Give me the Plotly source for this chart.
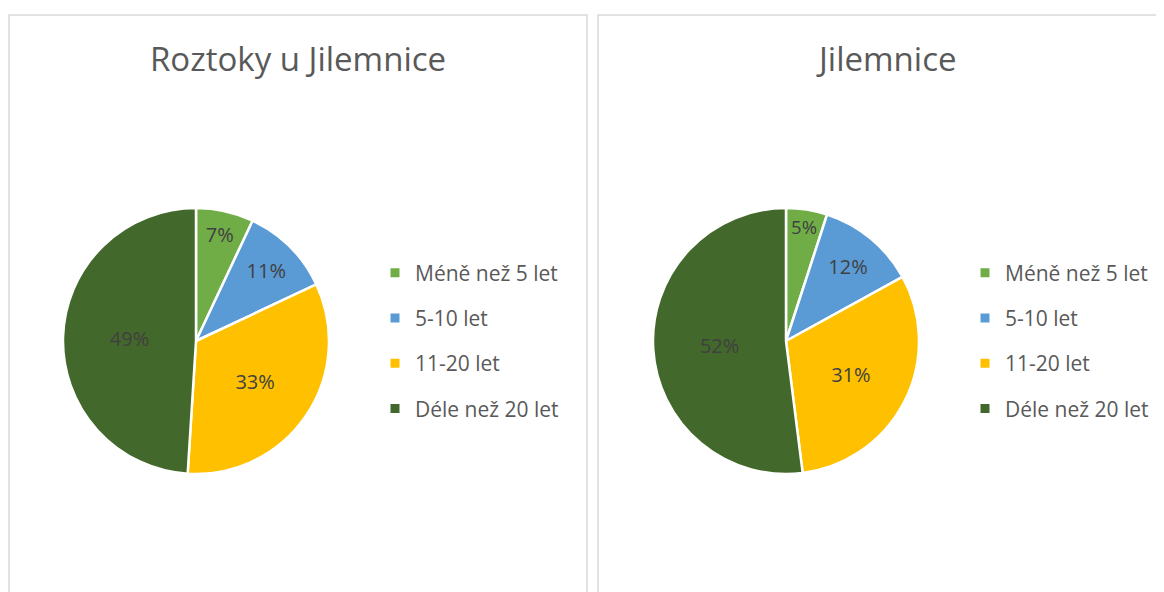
import plotly.graph_objects as go

categories = ["Méně než 5 let", "5-10 let", "11-20 let", "Déle než 20 let"]
colors = ["#70AD47", "#5B9BD5", "#FFC000", "#43682B"]
titles = ["Roztoky u Jilemnice", "Jilemnice"]
roztoky_values = [7, 11, 33, 49]
jilemnice_values = [5, 12, 31, 52]

# page body has an 8px default margin; figure is drawn from (8, 8)
OFF = 8
W, H = 1164 - OFF, 592 - OFF
FONT = "Open Sans"


def px(x):
    return (x - OFF) / W


def py(y):
    return 1 - (y - OFF) / H


fig = go.Figure()

panels = [
    dict(values=roztoky_values, title=titles[0], dom_x=(63, 329), legend="legend", cx=298),
    dict(values=jilemnice_values, title=titles[1], dom_x=(653, 919), legend="legend2", cx=886),
]

for p in panels:
    fig.add_trace(go.Pie(
        labels=categories, values=p["values"],
        marker=dict(colors=colors, line=dict(color="white", width=2.5)),
        sort=False, direction="clockwise", rotation=0,
        textinfo="percent", textposition="inside", insidetextorientation="horizontal",
        textfont=dict(family=FONT, size=20, color="#404040"),
        showlegend=False,
        domain=dict(x=[px(p["dom_x"][0]), px(p["dom_x"][1])], y=[py(474), py(208)]),
    ))
    for i, (cat, col) in enumerate(zip(categories, colors)):
        fig.add_trace(go.Scatter(
            x=[None], y=[None], mode="markers", name=cat,
            marker=dict(symbol="square", size=9, color=col),
            legend=p["legend"], legendgroup=p["legend"] + str(i), showlegend=True,
        ))
    fig.add_annotation(text=p["title"], x=px(p["cx"]), y=py(59), xref="paper", yref="paper",
                       showarrow=False, xanchor="center", yanchor="middle",
                       font=dict(family=FONT, size=33, color="#595959"))

legend_common = dict(font=dict(family=FONT, size=21, color="#595959"), tracegroupgap=15,
                     itemwidth=30, bgcolor="rgba(0,0,0,0)", yanchor="middle", xanchor="left",
                     y=py(341), itemclick=False, itemdoubleclick=False)
fig.update_layout(
    legend=dict(x=px(375), **legend_common),
    legend2=dict(x=px(965), **legend_common),
)

# panel borders
fig.add_shape(type="rect", xref="paper", yref="paper", x0=px(9), x1=px(587), y0=-0.05, y1=py(15),
              line=dict(color="#D9D9D9", width=1.5), fillcolor="rgba(0,0,0,0)")
fig.add_shape(type="rect", xref="paper", yref="paper", x0=px(598), x1=1.05, y0=-0.05, y1=py(15),
              line=dict(color="#D9D9D9", width=1.5), fillcolor="rgba(0,0,0,0)")

fig.update_layout(
    width=W, height=H, margin=dict(l=0, r=0, t=0, b=0),
    paper_bgcolor="white", plot_bgcolor="white",
    xaxis=dict(visible=False), yaxis=dict(visible=False),
)

fig.write_html("out.html")
